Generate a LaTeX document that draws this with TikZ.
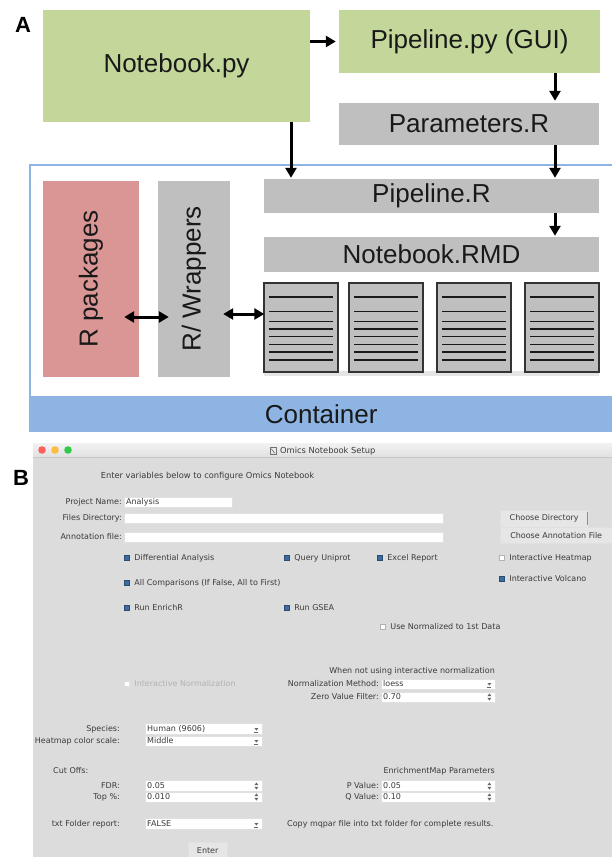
\documentclass[tikz,border=0pt]{standalone}
\usepackage{fontspec}
\setmainfont{Liberation Sans}
\newfontfamily\guifont{DejaVu Sans}
\usetikzlibrary{arrows.meta,calc}
\definecolor{boxgreen}{RGB}{196,215,155}
\definecolor{boxgray}{RGB}{191,191,191}
\definecolor{boxred}{RGB}{218,150,148}
\definecolor{cblue}{RGB}{141,180,226}
\definecolor{winbg}{RGB}{220,220,220}
\definecolor{btnbg}{RGB}{230,230,230}
\definecolor{cbblue}{RGB}{58,108,160}
\definecolor{guitext}{RGB}{58,58,58}
\definecolor{tlred}{RGB}{252,96,92}
\definecolor{tlyellow}{RGB}{253,188,64}
\definecolor{tlgreen}{RGB}{52,200,74}
\newcommand\guicheck[5]{\node[#2] (#1) at (#3,#4) {};
  \node[gl, anchor=west] (#1t) at ([shift={(4.5,0)}]#1.east) {#5};}
\newcommand\comboarrow[1]{\fill[black!60] ([shift={(-8,-1)}]#1.east) -- ++(4,0) -- ++(-2,2.5) -- cycle;
  \draw[black!60, line width=0.5pt] ([shift={(-8,3)}]#1.east) -- ++(4,0);}
\newcommand\spinarrow[1]{\fill[black!60] ([shift={(-8,-0.8)}]#1.east) -- ++(4,0) -- ++(-2,-2.8) -- cycle;
  \fill[black!60] ([shift={(-8,0.8)}]#1.east) -- ++(4,0) -- ++(-2,2.8) -- cycle;}
\begin{document}
\begin{tikzpicture}[x=1pt,y=-1pt,
  big/.style={font=\fontsize{26}{30}\selectfont, text=black!90},
  gbox/.style={fill=boxgreen, inner sep=0pt, big},
  graybox/.style={fill=boxgray, inner sep=0pt, big},
  redbox/.style={fill=boxred, inner sep=0pt},
  doc/.style={fill=boxgray, draw=black!80, line width=1.4pt, minimum width=74pt, minimum height=89pt, inner sep=0pt},
  docline/.style={line width=1.5pt, black!90},
  arr/.style={line width=3pt, -{Triangle[length=10pt,width=11pt]}},
  darr/.style={line width=3pt, {Triangle[length=10pt,width=11pt]}-{Triangle[length=10pt,width=11pt]}},
  panel/.style={font=\bfseries\fontsize{22}{24}\selectfont, inner sep=0pt},
  gl/.style={font=\guifont\fontsize{8}{9}\selectfont, text=guitext, inner sep=0pt},
  ent/.style={fill=white, draw=black!12, line width=0.4pt, inner sep=0pt, minimum height=10pt},
  cbon/.style={fill=cbblue, draw=cbblue!70!black, line width=0.4pt, minimum size=5pt, inner sep=0pt},
  cboff/.style={fill=white, draw=black!30, line width=0.4pt, minimum size=5pt, inner sep=0pt},
  btn/.style={fill=btnbg, draw=black!12, line width=0.4pt, inner sep=0pt},
]
\useasboundingbox (0,0) rectangle (611,857);
\fill[white] (0,0) rectangle (611,857);

% ---------------- Panel A ----------------
\node[panel] (pa) at (23,25) {A};
\node[gbox, minimum width=267pt, minimum height=112pt] (nb) at (176.5,66) {Notebook.py};
\node[gbox, minimum width=261pt, minimum height=63pt] (pp) at (469.5,41.5) {Pipeline.py (GUI)};
\node[graybox, minimum width=260pt, minimum height=42pt] (par) at (469,124) {Parameters.R};

\node[draw=cblue, line width=1.5pt, fill=white, minimum width=584pt, minimum height=266pt,
      anchor=north west, inner sep=0pt] (cont) at (29,164) {};
\node[fill=cblue, minimum width=584pt, minimum height=35pt, anchor=south west, inner sep=0pt, big]
      (band) at (cont.south west) {Container};

\node[graybox, minimum width=335pt, minimum height=34pt] (pipeR) at (431.5,196) {Pipeline.R};
\node[graybox, minimum width=335pt, minimum height=35pt] (rmd) at (431.5,254.5) {Notebook.RMD};
\node[redbox, minimum width=96pt, minimum height=196pt] (rpk) at (91,279) {};
\node[big, rotate=90, inner sep=0pt] (rpkt) at (rpk) {R packages};
\node[graybox, minimum width=72pt, minimum height=196pt] (wrap) at (194,279) {};
\node[big, rotate=90, inner sep=0pt] (wrapt) at (wrap) {R/ Wrappers};

\fill[black!10] (264,371) rectangle (599,376);
\foreach \n/\xx in {d1/301,d2/386,d3/474,d4/562} {
  \node[doc] (\n) at (\xx,327.5) {};
  \draw[docline, line width=2.2pt] ([shift={(6,15)}]\n.north west) -- ([shift={(-6,15)}]\n.north east);
  \foreach \yy in {29,39,46.7,54.4,62.1,69.8,77.5}
    \draw[docline] ([shift={(6,\yy)}]\n.north west) -- ([shift={(-6,\yy)}]\n.north east);
}

\coordinate (cx) at (555,0);
\coordinate (nx) at (291,0);
\draw[arr, shorten >=3pt] (nb.east |- pp.west) -- (pp.west);
\draw[arr, shorten >=2pt] (pp.south -| cx) -- (par.north -| cx);
\draw[arr, shorten >=1pt] (par.south -| cx) -- (pipeR.north -| cx);
\draw[arr, shorten >=1pt] (nb.south -| nx) -- (pipeR.north -| nx);
\draw[arr, shorten >=1pt] (pipeR.south -| cx) -- (rmd.north -| cx);
\draw[darr] ([shift={(-15,38)}]rpk.east) -- ([shift={(11,38)}]wrap.west);
\draw[darr] ([shift={(-7,35)}]wrap.east) -- ([shift={(1,-13.5)}]d1.west);

% ---------------- Panel B ----------------
\node[panel] (pb) at (21,478) {B};
\fill[winbg] (33,443) rectangle (612,858);
\shade[top color=black!5, bottom color=black!12] (33,443) rectangle (612,457);
\draw[black!22, line width=0.4pt] (33,457) -- (612,457);
\fill[tlred] (42,450) circle[radius=3.8pt];
\fill[tlyellow] (55,450) circle[radius=3.8pt];
\fill[tlgreen] (68,450) circle[radius=3.8pt];
\node[draw=black!55, line width=0.5pt, minimum width=6pt, minimum height=7pt, inner sep=0pt] (ticon) at (273,451) {};
\draw[black!55, line width=0.6pt] ([shift={(1.5,1.5)}]ticon.north west) -- ([shift={(-1.5,-1.5)}]ticon.south east);
\node[gl, font=\guifont\fontsize{8.3}{9}\selectfont, anchor=west] (title) at (280,451.5) {Omics Notebook Setup};

\node[gl, font=\guifont\fontsize{8.3}{9}\selectfont] (hdr) at (207.5,476) {Enter variables below to configure Omics Notebook};

\node[gl, anchor=east] (lpn) at (122,502) {Project Name:};
\node[ent, minimum width=108pt, anchor=west] (epn) at (124,502) {};
\node[gl, anchor=west] (tpn) at ([shift={(2,0)}]epn.west) {Analysis};
\node[gl, anchor=east] (lfd) at (122,518) {Files Directory:};
\node[ent, minimum width=319pt, anchor=west] (efd) at (124,518) {};
\node[gl, anchor=east] (laf) at (122,537) {Annotation file:};
\node[ent, minimum width=319pt, anchor=west] (eaf) at (124,537) {};

\node[btn, gl, minimum width=88pt, minimum height=17pt, anchor=north west] (bdir) at (500,510) {Choose Directory};
\draw[black!45, line width=0.6pt] ([shift={(-1,2)}]bdir.north east) -- ([shift={(-1,-2)}]bdir.south east);
\node[btn, gl, minimum width=112pt, minimum height=16pt, anchor=north west] (bann) at (500,527) {Choose Annotation File};

\guicheck{cda}{cbon}{127}{558}{Differential Analysis}
\guicheck{cqu}{cbon}{287}{558}{Query Uniprot}
\guicheck{cer}{cbon}{380}{558}{Excel Report}
\guicheck{cih}{cboff}{502}{558}{Interactive Heatmap}
\guicheck{cac}{cbon}{127}{583}{All Comparisons (If False, All to First)}
\guicheck{civ}{cbon}{502}{579}{Interactive Volcano}
\guicheck{cre}{cbon}{127}{608}{Run EnrichR}
\guicheck{cgs}{cbon}{287}{608}{Run GSEA}
\guicheck{cun}{cboff}{383}{627}{Use Normalized to 1st Data}
\node[cboff, draw=black!12] (cin) at (127,684) {};
\node[gl, anchor=west, text=black!30] (cint) at ([shift={(4.5,0)}]cin.east) {Interactive Normalization};

\node[gl, anchor=east] (lwn) at (495,671) {When not using interactive normalization};
\node[gl, anchor=east] (lnm) at (379,684) {Normalization Method:};
\node[ent, minimum width=114pt, anchor=west] (enm) at (381,684) {};
\node[gl, anchor=west] (tnm) at ([shift={(2,0)}]enm.west) {loess};
\comboarrow{enm}
\node[gl, anchor=east] (lzv) at (379,697) {Zero Value Filter:};
\node[ent, minimum width=114pt, anchor=west] (ezv) at (381,697) {};
\node[gl, anchor=west] (tzv) at ([shift={(2,0)}]ezv.west) {0.70};
\spinarrow{ezv}

\node[gl, anchor=east] (lsp) at (120,729) {Species:};
\node[ent, minimum width=117pt, minimum height=11pt, anchor=west] (esp) at (145,729) {};
\node[gl, anchor=west] (tsp) at ([shift={(2,0)}]esp.west) {Human (9606)};
\comboarrow{esp}
\node[gl, anchor=east] (lhc) at (120,741) {Heatmap color scale:};
\node[ent, minimum width=117pt, anchor=west] (ehc) at (145,741) {};
\node[gl, anchor=west] (thc) at ([shift={(2,0)}]ehc.west) {Middle};
\comboarrow{ehc}

\node[gl, anchor=west] (lco) at (53,771) {Cut Offs:};
\node[gl, anchor=east] (lem) at (495,771) {EnrichmentMap Parameters};
\node[gl, anchor=east] (lfdr) at (120,786) {FDR:};
\node[ent, minimum width=117pt, minimum height=11pt, anchor=west] (efdr) at (145,786) {};
\node[gl, anchor=west] (tfdr) at ([shift={(2,0)}]efdr.west) {0.05};
\spinarrow{efdr}
\node[gl, anchor=east] (ltop) at (120,797) {Top \%:};
\node[ent, minimum width=117pt, anchor=west] (etop) at (145,797) {};
\node[gl, anchor=west] (ttop) at ([shift={(2,0)}]etop.west) {0.010};
\spinarrow{etop}
\node[gl, anchor=east] (lpv) at (379,786) {P Value:};
\node[ent, minimum width=114pt, minimum height=11pt, anchor=west] (epv) at (381,786) {};
\node[gl, anchor=west] (tpv) at ([shift={(2,0)}]epv.west) {0.05};
\spinarrow{epv}
\node[gl, anchor=east] (lqv) at (379,797) {Q Value:};
\node[ent, minimum width=114pt, anchor=west] (eqv) at (381,797) {};
\node[gl, anchor=west] (tqv) at ([shift={(2,0)}]eqv.west) {0.10};
\spinarrow{eqv}

\node[gl, anchor=east] (ltxt) at (120,824) {txt Folder report:};
\node[ent, minimum width=117pt, minimum height=11pt, anchor=west] (etxt) at (145,824) {};
\node[gl, anchor=west] (ttxt) at ([shift={(2,0)}]etxt.west) {FALSE};
\comboarrow{etxt}
\node[gl, anchor=west] (lcopy) at (287,824) {Copy mqpar file into txt folder for complete results.};

\node[btn, gl, minimum width=39pt, minimum height=16pt, anchor=north west] (benter) at (188,842) {Enter};
\end{tikzpicture}
\end{document}
